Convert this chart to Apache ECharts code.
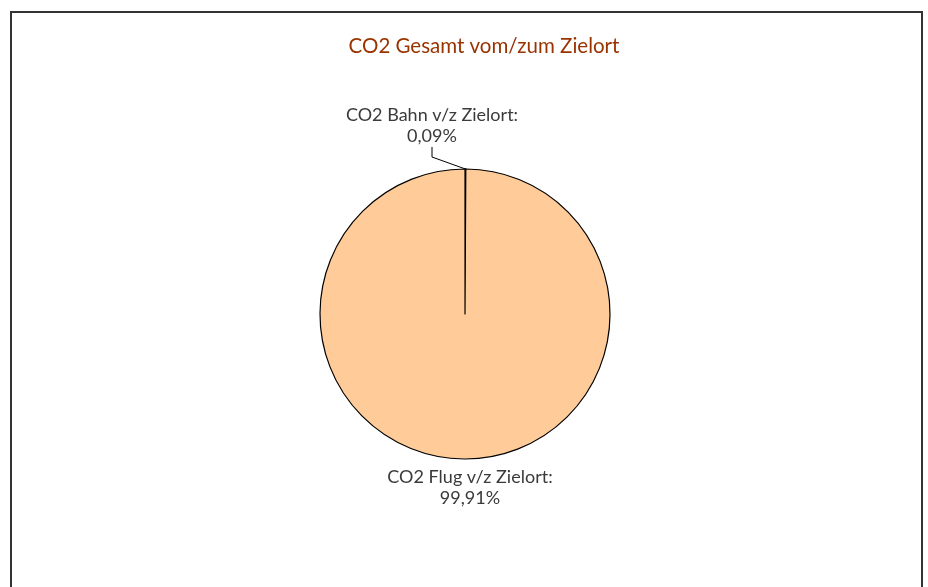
<!DOCTYPE html>
<html>
<head>
<meta charset="utf-8">
<script src="https://cdn.jsdelivr.net/npm/echarts@6/dist/echarts.min.js"></script>
<style>
html,body{margin:0;padding:0;background:#fff;}
#chart{width:928px;height:587px;}
</style>
</head>
<body>
<div id="chart"></div>
<script>
const categories = ['CO2 Bahn v/z Zielort', 'CO2 Flug v/z Zielort'];
const values = [0.09, 99.91];
const valueLabels = ['0,09%', '99,91%'];
const colors = ['#FFCC99', '#FFCC99'];

const CX = 465, CY = 314, R = 145;
const FONT = 'Lato';

const chart = echarts.init(document.getElementById('chart'), null, {renderer: 'canvas'});
const option = {
  animation: false,
  backgroundColor: '#ffffff',
  title: {
    text: 'CO2 Gesamt vom/zum Zielort',
    left: 479, top: 31, textAlign: 'center',
    textStyle: {color: '#993300', fontSize: 20.5, fontWeight: 'normal', fontFamily: FONT}
  },
  graphic: [{
    type: 'rect', silent: true, z: -1,
    shape: {x: 11, y: 12, width: 911, height: 620},
    style: {fill: 'none', stroke: '#333333', lineWidth: 2}
  }],
  series: [{
    type: 'pie',
    center: [CX, CY],
    radius: R,
    startAngle: 90,
    clockwise: true,
    data: categories.map((c, i) => ({
      name: c, value: values[i],
      itemStyle: {color: colors[i], borderWidth: i === 0 ? 1.6 : 1.2},
      label: {formatter: c + ':\n' + valueLabels[i]},
      labelLine: {show: i === 0}
    })),
    itemStyle: {borderColor: '#000000', borderWidth: 1},
    label: {
      show: true,
      position: 'outside',
      color: '#3a3a3a',
      fontSize: 18,
      lineHeight: 21,
      fontFamily: FONT,
      align: 'center'
    },
    labelLine: {show: true, lineStyle: {color: '#000000', width: 1}, length: 10, length2: 10},
    labelLayout: function (p) {
      if (p.dataIndex === 0) {
        return {x: CX - 33, y: CY - R - 43, align: 'center', verticalAlign: 'middle'};
      }
      return {x: CX + 5, y: CY + R + 29, align: 'center', verticalAlign: 'middle'};
    }
  }]
};
chart.setOption(option);
</script>
</body>
</html>
